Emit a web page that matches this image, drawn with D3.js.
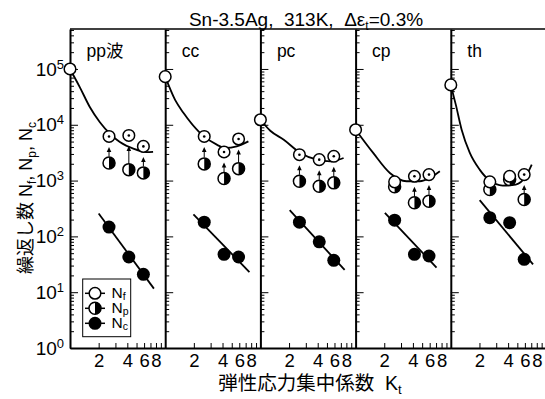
<!DOCTYPE html>
<html>
<head>
<meta charset="utf-8">
<script src="https://cdn.jsdelivr.net/npm/d3@7"></script>
<style>
  body { margin: 0; background: #fff; }
  svg text { font-family: "Liberation Sans", Arial, "Noto Sans CJK JP", sans-serif; fill: #000; }
</style>
</head>
<body>
<svg id="chart" width="545" height="399"></svg>
<script>
// panels (notch type) and stress concentration factors
const panelNames = ['pp波', 'cc', 'pc', 'cp', 'th'];
const ktValues = [2.57, 4.15, 5.9];

// cycles
const nfUnnotched = [100000, 72800, 12300, 8150, 51800];
const nfValues = [[6180, 6440, 4100], [6180, 3255, 5560], [2910, 2370, 2720], [948, 1194, 1280], [948, 1194, 1280]];
const nfMarked = [[1, 1, 1], [1, 1, 1], [1, 1, 1], [0, 1, 1], [0, 0, 1]];
const npValues = [[2070, 1570, 1373], [1990, 1086, 1637], [972, 791, 910], [772, 400, 427], [690, 1040, 458]];
const ncValues = [[147, 42.7, 20.9], [180, 47.7, 42.7], [180, 80, 37.3], [195, 47.7, 44.5], [216, 176, 38.8]];

// Nc fit lines (end points)
const ncLineKt = [[2.0, 7.61], [1.98, 7.67], [2.03, 7.67], [2.03, 7.08], [2.01, 7.31]];
const ncLineN = [[258, 11.6], [247, 23], [295, 25], [265, 27.6], [445, 31.6]];

// Nf trend curves
const nfCurveKt = [
  [1, 1.27, 1.62, 2.06, 2.63, 3.34, 4.62, 6.38, 7.46],
  [1, 1.27, 1.56, 2.33, 3.48, 4.26, 5.65, 7.48],
  [1, 1.27, 1.76, 2.63, 3.94, 5.43, 7.48],
  [1, 1.53, 2.29, 3.43, 4.73, 6.03, 7.67],
  [1, 1.13, 1.30, 1.58, 2.01, 2.56, 3.51, 4.81, 6.12, 7.08]
];
const nfCurveN = [
  [100000, 46900, 20600, 11100, 6900, 4890, 3730, 3240, 3280],
  [72800, 27900, 16200, 7110, 4400, 3840, 4100, 5040],
  [12300, 7820, 5400, 3130, 2370, 2210, 2540],
  [8150, 3130, 1370, 973, 973, 1117, 1466],
  [51800, 22700, 8150, 3160, 1570, 1000, 815, 849, 1178, 1930]
];

const yMajor = [1, 10, 100, 1000, 10000, 100000];
const yExponents = ['0', '1', '2', '3', '4', '5'];
const xTicks = [2, 3, 4, 5, 6, 7, 8, 9];
const xTickLabels = [2, 4, 6, 8];

const svg = d3.select('#chart');
const plotLeft = 70, plotTop = 29, plotBottom = 348, panelW = 95.2;

const y = d3.scaleLog().domain([1, 5.2e5]).range([plotBottom, plotTop]);

const yMinor = [];
for (let e = 0; e < 6; e++) {
  for (let k = 2; k <= 9; k++) {
    const v = k * Math.pow(10, e);
    if (v < 5.2e5) yMinor.push(v);
  }
}

function marker(g, type, cx, cy, dotted) {
  if (type === 'f') {
    g.append('circle').attr('cx', cx).attr('cy', cy).attr('r', 5.8)
      .attr('fill', '#fff').attr('stroke', '#000').attr('stroke-width', 1.5);
    if (dotted) g.append('circle').attr('cx', cx).attr('cy', cy).attr('r', 1.3).attr('fill', '#000');
  } else if (type === 'p') {
    g.append('circle').attr('cx', cx).attr('cy', cy).attr('r', 6)
      .attr('fill', '#fff').attr('stroke', '#000').attr('stroke-width', 1.5);
    g.append('path')
      .attr('d', `M${cx},${cy - 6}A6,6 0 0 1 ${cx},${cy + 6}Z`)
      .attr('fill', '#000');
  } else {
    g.append('circle').attr('cx', cx).attr('cy', cy).attr('r', 6.5).attr('fill', '#000');
  }
}

panelNames.forEach((name, i) => {
  const x0 = plotLeft + i * panelW;
  const x = d3.scaleLog().domain([1, 10]).range([x0, x0 + panelW]);
  const g = svg.append('g');

  // axes
  const minorAx = g.append('g').attr('transform', `translate(${x0},0)`)
    .call(d3.axisLeft(y).tickValues(yMinor).tickSizeInner(-4).tickSizeOuter(0).tickFormat(''));
  minorAx.select('.domain').remove();
  const majorAx = g.append('g').attr('transform', `translate(${x0},0)`)
    .call(d3.axisLeft(y).tickValues(yMajor).tickSizeInner(-8).tickSizeOuter(0).tickPadding(6)
      .tickFormat(i === 0 ? d => d : ''));
  majorAx.select('.domain').attr('stroke-width', 2);
  if (i === 0) {
    majorAx.selectAll('.tick text')
      .attr('font-size', '19px')
      .each(function (d, j) {
        const t = d3.select(this).text(null);
        t.append('tspan').text('10');
        t.append('tspan').attr('font-size', '13px').attr('dy', -7).text(yExponents[j]);
      });
  }

  const xAx = g.append('g').attr('transform', `translate(0,${plotBottom})`)
    .call(d3.axisBottom(x).tickValues(xTicks).tickSizeInner(-5).tickSizeOuter(0).tickPadding(6)
      .tickFormat(d => xTickLabels.includes(d) ? d : ''));
  xAx.select('.domain').attr('stroke-width', 2);
  xAx.selectAll('.tick text').attr('font-size', '18.5px');

  // panel label
  g.append('text').attr('x', x0 + 16.5).attr('y', 56.5).attr('font-size', '17.5px').text(name);

  // Nf trend curve
  const curvePts = nfCurveKt[i].map((k, j) => [k, nfCurveN[i][j]]);
  g.append('path')
    .datum(curvePts)
    .attr('fill', 'none').attr('stroke', '#000').attr('stroke-width', 1.8)
    .attr('d', d3.line().x(d => x(d[0])).y(d => y(d[1])).curve(d3.curveMonotoneX));

  // Nc fit line
  g.append('line')
    .attr('x1', x(ncLineKt[i][0])).attr('y1', y(ncLineN[i][0]))
    .attr('x2', x(ncLineKt[i][1])).attr('y2', y(ncLineN[i][1]))
    .attr('stroke', '#000').attr('stroke-width', 1.8);

  // arrows Np -> Nf
  ktValues.forEach((k, j) => {
    if (!nfMarked[i][j]) return;
    const cx = x(k), yf = y(nfValues[i][j]), yp = y(npValues[i][j]);
    g.append('line').attr('x1', cx).attr('x2', cx)
      .attr('y1', yp - 6.5).attr('y2', yf + 14)
      .attr('stroke', '#000').attr('stroke-width', 1);
    g.append('path')
      .attr('d', `M${cx},${yf + 10.5}L${cx - 2.3},${yf + 15.5}L${cx + 2.3},${yf + 15.5}Z`)
      .attr('fill', '#000');
  });

  // markers
  ktValues.forEach((k, j) => marker(g, 'c', x(k), y(ncValues[i][j])));
  ktValues.forEach((k, j) => marker(g, 'p', x(k), y(npValues[i][j])));
  ktValues.forEach((k, j) => marker(g, 'f', x(k), y(nfValues[i][j]), nfMarked[i][j]));
  marker(g, 'f', x(1), y(nfUnnotched[i]), false);
});

// frame top and right
svg.append('line').attr('x1', plotLeft).attr('x2', plotLeft + 5 * panelW).attr('y1', plotTop).attr('y2', plotTop)
  .attr('stroke', '#000').attr('stroke-width', 1.5);
svg.append('line').attr('x1', plotLeft + 5 * panelW).attr('x2', plotLeft + 5 * panelW)
  .attr('y1', plotTop).attr('y2', plotBottom)
  .attr('stroke', '#000').attr('stroke-width', 2);

// legend
const lg = svg.append('g');
lg.append('rect').attr('x', 82.7).attr('y', 279).attr('width', 48).attr('height', 57.7)
  .attr('fill', '#fff').attr('stroke', '#000').attr('stroke-width', 1);
['f', 'p', 'c'].forEach((type, j) => {
  const cy = 293.3 + j * 15;
  lg.append('line').attr('x1', 85).attr('x2', 105).attr('y1', cy).attr('y2', cy)
    .attr('stroke', '#000').attr('stroke-width', 1.5);
  marker(lg, type, 95, cy, false);
  const t = lg.append('text').attr('x', 111.5).attr('y', cy + 5).attr('font-size', '15.5px');
  t.append('tspan').text('N');
  t.append('tspan').attr('font-size', '10.5px').attr('dy', 2).text(type);
});

// title
const title = svg.append('text').attr('x', 306).attr('y', 25.5).attr('text-anchor', 'middle')
  .attr('font-size', '19px').style('white-space', 'pre');
title.append('tspan').text('Sn-3.5Ag,  313K,  Δε');
title.append('tspan').attr('font-size', '12px').attr('dy', 4).text('t');
title.append('tspan').attr('dy', -4).text('=0.3%');

// axis titles
const xl = svg.append('text').attr('x', 310).attr('y', 390).attr('text-anchor', 'middle')
  .attr('font-size', '19.5px').style('white-space', 'pre');
xl.append('tspan').text('弾性応力集中係数  K');
xl.append('tspan').attr('font-size', '13px').attr('dy', 4).text('t');

const yl = svg.append('text').attr('transform', 'translate(32,198) rotate(-90)')
  .attr('text-anchor', 'middle').attr('font-size', '18px').style('white-space', 'pre');
yl.append('tspan').text('繰返し数 N');
yl.append('tspan').attr('font-size', '12px').attr('dy', 4).text('f');
yl.append('tspan').attr('dy', -4).text(', N');
yl.append('tspan').attr('font-size', '12px').attr('dy', 4).text('p');
yl.append('tspan').attr('dy', -4).text(', N');
yl.append('tspan').attr('font-size', '12px').attr('dy', 4).text('c');
</script>
</body>
</html>
